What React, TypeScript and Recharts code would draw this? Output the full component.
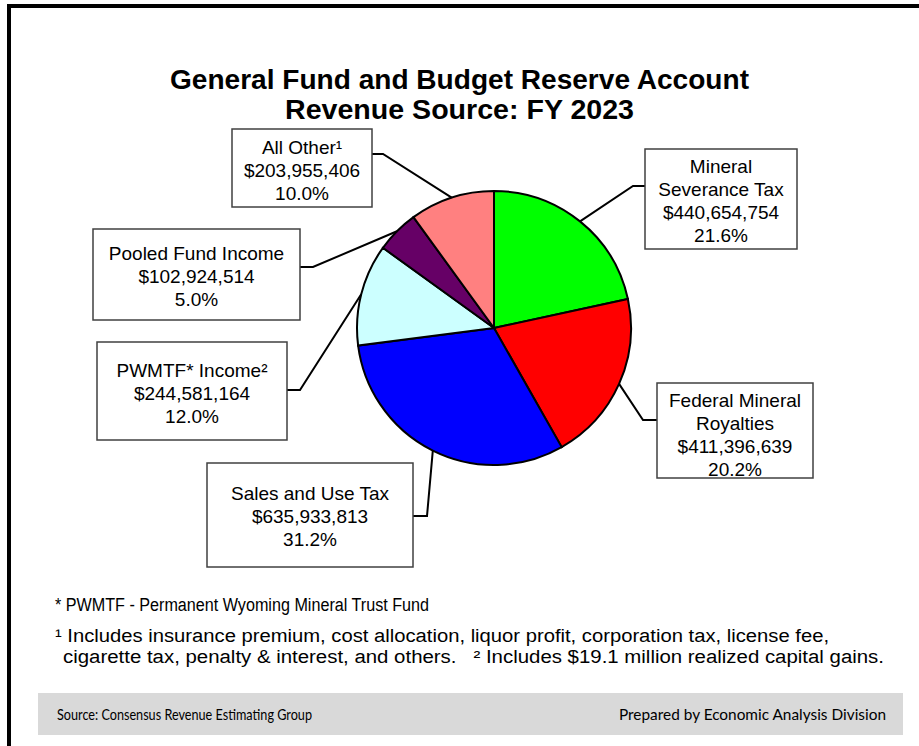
import React from "react";
import { PieChart, Pie, Cell } from "recharts";

// slices run clockwise from 12 o'clock
const categories = [
  "Mineral Severance Tax",
  "Federal Mineral Royalties",
  "Sales and Use Tax",
  "PWMTF* Income",
  "Pooled Fund Income",
  "All Other",
];
const labelLines = [
  ["Mineral", "Severance Tax"],
  ["Federal Mineral", "Royalties"],
  ["Sales and Use Tax"],
  ["PWMTF* Income\u00B2"],
  ["Pooled Fund Income"],
  ["All Other\u00B9"],
];
const amounts = [440654754, 411396639, 635933813, 244581164, 102924514, 203955406];
const colors = ["#00FF00", "#FF0000", "#0000FF", "#CCFFFF", "#660066", "#FF8080"];

const total = amounts.reduce((a, b) => a + b, 0);
const pieData = categories.map((name, i) => ({ name, value: amounts[i] }));

// box geometry for each callout (x, y, w, h), the leader anchor and elbow, first text line
const labelBoxes = [
  { x: 645, y: 149, w: 152, h: 100, ax: 645, ay: 186, ex: 633, ty: 166 },
  { x: 657, y: 383, w: 156, h: 95, ax: 657, ay: 420, ex: 643, ty: 400 },
  { x: 207, y: 463, w: 206, h: 104, ax: 413, ay: 516, ex: 427, ty: 493 },
  { x: 97, y: 342, w: 190, h: 98, ax: 287, ay: 390, ex: 300, ty: 370 },
  { x: 93, y: 229, w: 207, h: 91, ax: 300, ay: 267, ex: 313, ty: 253 },
  { x: 232, y: 129, w: 140, h: 78, ax: 372, ay: 154, ex: 383, ty: 147 },
];

const ARIAL = "'Liberation Sans', Arial, sans-serif";
const CALIBRI = "Lato, 'Open Sans', sans-serif";
const RAD = Math.PI / 180;

const fmtMoney = (v: number) => "$" + v.toLocaleString("en-US");
const fmtPct = (v: number) => ((v / total) * 100).toFixed(1) + "%";

const renderLabel = (props: any) => {
  const { cx, cy, midAngle, outerRadius, index } = props;
  const b = labelBoxes[index];
  const px = cx + outerRadius * Math.cos(-midAngle * RAD);
  const py = cy + outerRadius * Math.sin(-midAngle * RAD);
  const lines = [...labelLines[index], fmtMoney(amounts[index]), fmtPct(amounts[index])];
  return (
    <g key={"lbl-" + index}>
      <polyline
        points={`${b.ax},${b.ay} ${b.ex},${b.ay} ${px},${py}`}
        fill="none"
        stroke="#000"
        strokeWidth={2}
      />
      <rect x={b.x} y={b.y} width={b.w} height={b.h} fill="#fff" stroke="#404040" strokeWidth={1.5} />
      <text textAnchor="middle" fontFamily={ARIAL} fontSize={19} fill="#000">
        {lines.map((l, k) => (
          <tspan key={k} x={b.x + b.w / 2} y={b.ty + 7 + k * 23}>
            {l}
          </tspan>
        ))}
      </text>
    </g>
  );
};

const App = () => {
  return (
    <div style={{ position: "absolute", left: 0, top: 0, width: 919, height: 746, background: "#fff" }}>
      <svg width={919} height={746} style={{ position: "absolute", left: 0, top: 0 }}>
        {/* frame */}
        <rect x={7} y={4} width={912} height={4} fill="#000" />
        <rect x={7} y={4} width={4} height={742} fill="#000" />

        <text x={459.5} y={89} textAnchor="middle" fontFamily={ARIAL} fontWeight="bold" fontSize={27}
          textLength={579} lengthAdjust="spacingAndGlyphs">
          General Fund and Budget Reserve Account
        </text>
        <text x={459.5} y={119} textAnchor="middle" fontFamily={ARIAL} fontWeight="bold" fontSize={27}
          textLength={349} lengthAdjust="spacingAndGlyphs">
          Revenue Source: FY 2023
        </text>

        <text x={55} y={611} fontFamily={ARIAL} fontSize={18} textLength={374} lengthAdjust="spacingAndGlyphs">
          * PWMTF - Permanent Wyoming Mineral Trust Fund
        </text>
        <text x={55} y={642} fontFamily={ARIAL} fontSize={18} textLength={774} lengthAdjust="spacingAndGlyphs">
          {"\u00B9 Includes insurance premium, cost allocation, liquor profit, corporation tax, license fee,"}
        </text>
        <text x={63} y={663} fontFamily={ARIAL} fontSize={18} textLength={821} lengthAdjust="spacingAndGlyphs"
          style={{ whiteSpace: "pre" }}>
          {"cigarette tax, penalty & interest, and others.   \u00B2 Includes $19.1 million realized capital gains."}
        </text>

        <rect x={38} y={693} width={865} height={42} fill="#d9d9d9" />
        <text x={57} y={720} fontFamily={CALIBRI} fontSize={16} fill="#000"
          textLength={255} lengthAdjust="spacingAndGlyphs">
          Source: Consensus Revenue Estimating Group
        </text>
        <text x={886} y={720} textAnchor="end" fontFamily={CALIBRI} fontSize={16} fill="#000"
          textLength={267} lengthAdjust="spacingAndGlyphs">
          Prepared by Economic Analysis Division
        </text>
      </svg>

      <div style={{ position: "absolute", left: 0, top: 0 }}>
        <PieChart width={919} height={746} margin={{ top: 0, right: 0, bottom: 0, left: 0 }}>
          <Pie
            data={pieData}
            dataKey="value"
            nameKey="name"
            cx={494}
            cy={328}
            outerRadius={137}
            startAngle={90}
            endAngle={-270}
            stroke="#000"
            strokeWidth={2}
            label={renderLabel}
            labelLine={false}
            isAnimationActive={false}
          >
            {pieData.map((d, i) => (
              <Cell key={d.name} fill={colors[i]} />
            ))}
          </Pie>
        </PieChart>
      </div>
    </div>
  );
};

export default App;
